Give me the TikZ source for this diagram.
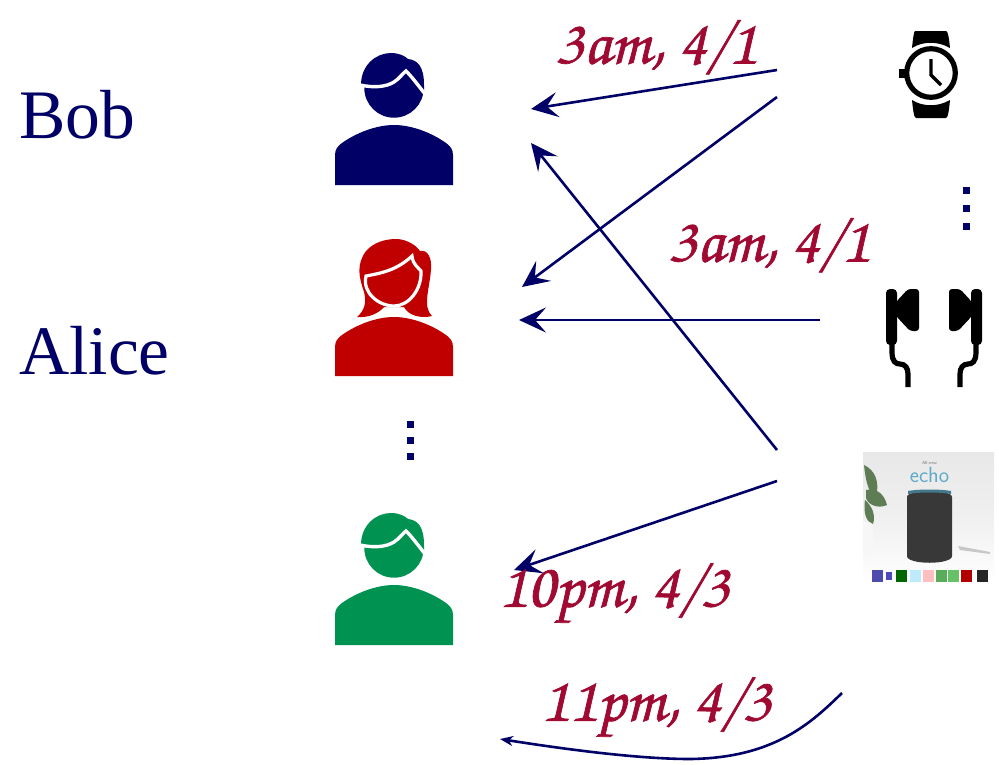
\documentclass[tikz,border=0pt]{standalone}
\usepackage{fontspec}
\setmainfont{Liberation Serif}
\usepackage[T1]{fontenc}
\setmainfont{Liberation Serif}
\usetikzlibrary{arrows.meta}
\definecolor{navy}{RGB}{0,0,102}
\definecolor{wine}{RGB}{160,10,50}
\definecolor{pred}{RGB}{192,0,0}
\definecolor{pgreen}{RGB}{0,146,80}
\definecolor{echoblue}{RGB}{95,170,200}
\definecolor{leaf}{RGB}{95,125,85}
\newcommand{\chanc}{\fontencoding{T1}\fontfamily{pzc}\fontseries{m}\fontshape{it}\selectfont}
\newcommand{\heavy}[1]{\special{pdf:code q 2 Tr 0.7 w 0.627 0.039 0.196 RG}#1\special{pdf:code 0 Tr Q}}
\newcommand{\manfig}[2]{%
 \begin{scope}[shift={(#1)}]
  \fill[#2] (-59,60) -- (-59,30) .. controls (-59,24) and (-56,21) .. (-52,18) .. controls (-38,8) and (-18,0) .. (0,0) .. controls (18,0) and (38,8) .. (52,18) .. controls (56,21) and (59,24) .. (59,30) -- (59,60) -- cycle;
  \fill[#2] (0,-37) circle (29.7);
  \fill[#2] (-33,-40) .. controls (-33,-60) and (-18,-72) .. (-3,-72) .. controls (5,-72) and (11,-69) .. (14,-66) .. controls (24,-65) and (30,-58) .. (30,-40) -- (30,-33) -- (0,-40) -- cycle;
  \draw[white,line width=3.4pt] (-34,-40) .. controls (-20,-37) and (-8,-38) .. (0,-43) .. controls (5,-46) and (9,-52) .. (12,-54) .. controls (18,-48) and (24,-40) .. (31,-31);
 \end{scope}}
\tikzset{
 conn/.style={navy,line width=2.6pt,-{Stealth[length=27pt,width=25pt,inset=11pt]}},
 who/.style={navy,font=\fontsize{69.5}{70}\selectfont,anchor=base west,inner sep=0pt},
 when/.style={wine,font=\chanc\fontsize{64}{64}\selectfont,inner sep=0pt},
 dot/.style={navy,minimum size=7pt,inner sep=0pt,fill}
}
\begin{document}
\begin{tikzpicture}[x=1pt,y=-1pt]
\useasboundingbox (0,0) rectangle (999,764);
% names
\node[who] (bob) at (19,138) {Bob};
\node[who] (alice) at (19,374) {Alice};
% people
\manfig{394,125}{navy}
\manfig{394,585}{pgreen}
% woman
\begin{scope}[shift={(394,317)}]
 \fill[pred] (-37,0) .. controls (-30,-6) and (-27,-14) .. (-30,-25) .. controls (-35,-40) and (-38,-52) .. (-28,-66) .. controls (-20,-75) and (-8,-78) .. (2,-78) .. controls (12,-78) and (22,-72) .. (26,-66) .. controls (34,-68) and (38,-58) .. (37,-48) .. controls (36,-30) and (28,-10) .. (38,-1) .. controls (26,2) and (14,-2) .. (10,-10) -- (-10,-10) .. controls (-15,-4) and (-25,1) .. (-37,0) -- cycle;
 \draw[white,line width=3.2pt,fill=pred] (-28,-41) .. controls (-12,-44) and (3,-47) .. (18,-61) .. controls (19,-52) and (24,-50) .. (27,-46) .. controls (28,-28) and (15,-11) .. (0,-11) .. controls (-15,-11) and (-32,-24) .. (-28,-41) -- cycle;
 \fill[pred] (-59,59) -- (-59,30) .. controls (-59,24) and (-56,21) .. (-52,18) .. controls (-38,8) and (-18,0) .. (0,0) .. controls (18,0) and (38,8) .. (52,18) .. controls (56,21) and (59,24) .. (59,30) -- (59,59) -- cycle;
\end{scope}
% dots left
\node[dot] (dl1) at (410,424) {};
\node[dot] (dl2) at (410,440) {};
\node[dot] (dl3) at (410,456) {};
% dots right
\node[dot] (dr1) at (966,190) {};
\node[dot] (dr2) at (966,208) {};
\node[dot] (dr3) at (966,226) {};
% watch
\fill (915,31) -- (946,31) .. controls (948,31) and (949,38) .. (950,48) .. controls (938,41) and (923,41) .. (912,48) .. controls (913,38) and (914,31) .. (915,31) -- cycle;
\fill (912,100) .. controls (923,107) and (938,107) .. (950,100) .. controls (949,110) and (948,118) .. (946,118) -- (916,118) .. controls (914,118) and (913,110) .. (912,100) -- cycle;
\draw[line width=5.2pt] (931,73) circle (24.3);
\fill (899,69) rectangle (906,78);
\draw[line width=3.2pt] (931,59) -- (931,75) -- (941,85);
% earbuds
\foreach \s/\o in {1/0,-1/1868}{
\begin{scope}[xshift=\o pt,xscale=\s]
 \fill[rounded corners=4pt] (886,289) rectangle (897,345);
 \fill[rounded corners=3pt] (896,302) -- (908,289) -- (919,289) -- (919,331) -- (910,331) -- (896,316) -- cycle;
 \draw[line width=5.2pt] (892,344) -- (892,352) .. controls (892,362) and (896,364) .. (900,364) .. controls (905,364) and (908,368) .. (908,374) -- (908,387);
\end{scope}}
% echo picture
\shade[top color=black!9,bottom color=white,middle color=black!6] (863,452) rectangle (994,583);
\fill[white!97!black] (863,522) rectangle (873,556);
\fill[leaf] (864,465) .. controls (875,470) and (880,482) .. (876,497) .. controls (870,495) and (866,485) .. (864,465) -- cycle;
\fill[leaf] (866,490) .. controls (876,488) and (884,493) .. (887,505) .. controls (878,509) and (868,505) .. (866,498) -- cycle;
\fill[leaf] (865,500) .. controls (872,506) and (876,515) .. (873,524) .. controls (867,522) and (863,515) .. (865,500) -- cycle;
\fill[black!78] (907,497) .. controls (907,489) and (952,489) .. (952,497) -- (952,556) .. controls (952,565) and (907,565) .. (907,556) -- cycle;
\fill[echoblue!70!black] (908,491) .. controls (918,489) and (941,489) .. (951,491) -- (951,494) .. controls (941,492) and (918,492) .. (908,494) -- cycle;
\fill[black!22] (958,546) -- (990,552) -- (990,554) -- (960,550) -- cycle;
\node[text=echoblue,font=\sffamily\fontsize{22}{22}\selectfont,inner sep=0pt] (echo) at (929.5,475) {echo};
\node[text=black!55,font=\sffamily\fontsize{4.5}{5}\selectfont,inner sep=0pt] (allnew) at (929.5,463) {All-new};
\foreach \x/\c in {877/blue!55!black!70,901/green!40!black,915/cyan!25!white,928/red!25!white,941/green!50!black!65,953/green!60!black!60,966/red!70!black,982/black!85}{
 \fill[\c] (\x-5.5,570) rectangle (\x+5.5,582);}
\fill[blue!60!black!70] (886,572) rectangle (892,580);
% connectors
\coordinate (a1) at (777,70); \coordinate (b1) at (531,109);
\coordinate (a2) at (777,97); \coordinate (b2) at (522,287);
\coordinate (a3) at (820,320); \coordinate (b3) at (519,320);
\coordinate (a4) at (777,450); \coordinate (b4) at (531,143);
\coordinate (a5) at (777,481); \coordinate (b5) at (514,570);
\coordinate (a6) at (842,693); \coordinate (b6) at (500,739);
\draw[conn] (a1) -- (b1);
\draw[conn] (a2) -- (b2);
\draw[conn] (a3) -- (b3);
\draw[conn] (a4) -- (b4);
\draw[conn] (a5) -- (b5);
\draw[navy,line width=2.6pt,-{Stealth[length=13pt,width=10pt,inset=4pt]}] (a6) .. controls (812,722) and (775,758) .. (690,759) .. controls (640,759) and (570,750) .. (b6);
% labels
\node[when] (l1) at (656,48) {\heavy{3am, 4/1}};
\node[when] (l2) at (769,246) {\heavy{3am, 4/1}};
\node[when] (l3) at (614,597) {\heavy{10pm, 4/3}};
\node[when] (l4) at (656,711) {\heavy{11pm, 4/3}};
\end{tikzpicture}
\end{document}
